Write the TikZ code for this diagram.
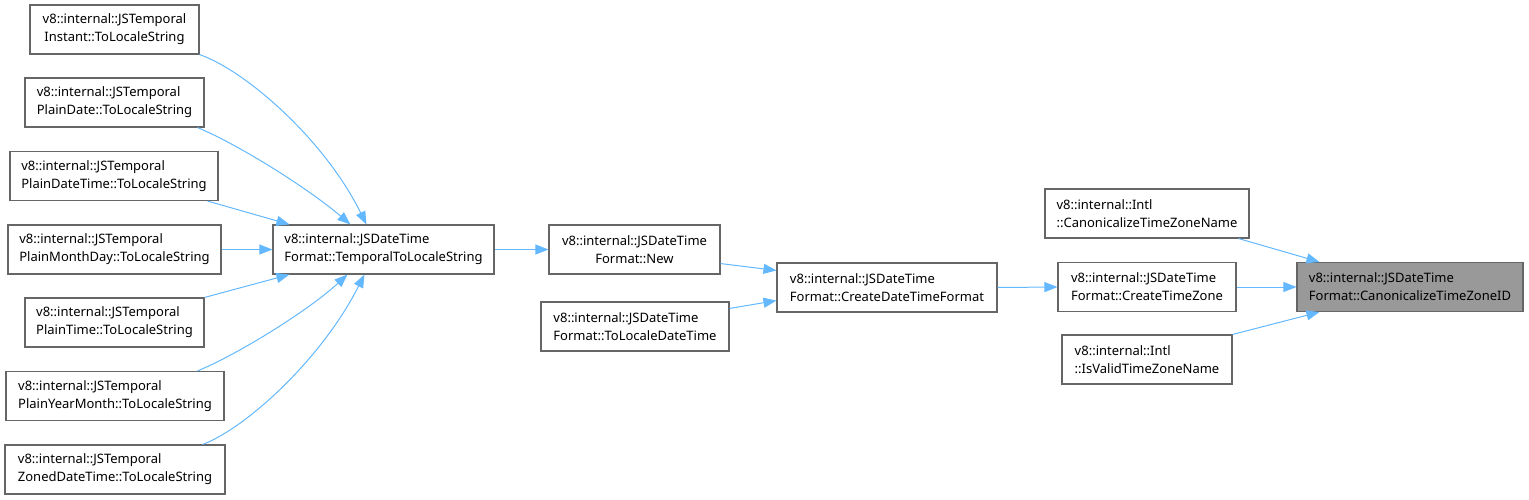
\documentclass[tikz,border=0pt]{standalone}
\usepackage{fontspec}
\setmainfont{Noto Sans}
\usetikzlibrary{arrows.meta}

\definecolor{boxline}{HTML}{666666}
\definecolor{callline}{HTML}{63B8FF}
\definecolor{thisfill}{HTML}{999999}

\begin{document}
\begin{tikzpicture}[x=1pt, y=-1pt,
  every node/.style={draw=boxline, line width=1.1pt, fill=white, rectangle, inner sep=0pt,
    minimum height=49pt, align=left, font=\fontsize{13}{18}\selectfont},
  call/.style={draw=callline, line width=1pt, -{Triangle[length=13pt, width=10pt]}}]

\useasboundingbox (0,0) rectangle (1529,499);

% Nodes

\node[minimum width=169pt, align=center] (instant) at (114.5,29.5) {v8::internal::JSTemporal\\Instant::ToLocaleString};
\node[minimum width=179pt] (pdate) at (114.5,102.5) {v8::internal::JSTemporal\\PlainDate::ToLocaleString};
\node[minimum width=208pt] (pdatetime) at (114,176) {v8::internal::JSTemporal\\PlainDateTime::ToLocaleString};
\node[minimum width=213pt] (pmonthday) at (114.5,249.5) {v8::internal::JSTemporal\\PlainMonthDay::ToLocaleString};
\node[minimum width=179pt] (ptime) at (114.5,322.5) {v8::internal::JSTemporal\\PlainTime::ToLocaleString};
\node[minimum width=218pt] (pyearmonth) at (115,396) {v8::internal::JSTemporal\\PlainYearMonth::ToLocaleString};
\node[minimum width=220pt] (zoned) at (115,469.5) {v8::internal::JSTemporal\\ZonedDateTime::ToLocaleString};

\node[minimum width=221pt] (temporal) at (383.5,249.5) {v8::internal::JSDateTime\\Format::TemporalToLocaleString};
\node[minimum width=171pt, align=center] (new) at (634.5,249.5) {v8::internal::JSDateTime\\Format::New};
\node[minimum width=188pt] (todatetime) at (635,326.5) {v8::internal::JSDateTime\\Format::ToLocaleDateTime};
\node[minimum width=220pt] (createdtf) at (887,287.5) {v8::internal::JSDateTime\\Format::CreateDateTimeFormat};

\node[minimum width=204pt] (canonname) at (1147,213.5) {v8::internal::Intl\\::CanonicalizeTimeZoneName};
\node[minimum width=178pt] (createtz) at (1147,287) {v8::internal::JSDateTime\\Format::CreateTimeZone};
\node[minimum width=170pt] (isvalid) at (1147,359.5) {v8::internal::Intl\\::IsValidTimeZoneName};
\node[minimum width=226pt, fill=thisfill] (canonid) at (1410,287) {v8::internal::JSDateTime\\Format::CanonicalizeTimeZoneID};

% Edges
\draw[call] (instant.south east) .. controls +(46,16) and +(-42,-85) .. ([xshift=94pt]temporal.north west);
\draw[call] ([xshift=-7pt]pdate.south east) .. controls +(43,18) and +(-41,-35) .. ([xshift=78pt]temporal.north west);
\draw[call] ([xshift=-11pt]pdatetime.south east) -- ([xshift=17pt]temporal.north west);
\draw[call] (pmonthday.east) -- (temporal.west);
\draw[call] (ptime.north east) -- ([xshift=17pt]temporal.south west);
\draw[call] ([xshift=-27pt]pyearmonth.north east) .. controls +(43,-18) and +(-38,35) .. ([xshift=75pt]temporal.south west);
\draw[call] ([xshift=-23pt]zoned.north east) .. controls +(43,-16) and +(-43,85) .. ([xshift=92pt]temporal.south west);

\draw[call] (temporal.east) -- (new.west);
\draw[call] ([yshift=11pt]new.south east) -- ([yshift=-8pt]createdtf.north west);
\draw[call] ([yshift=-7pt]todatetime.north east) -- ([yshift=12pt]createdtf.south west);
\draw[call] (createdtf.east) -- (createtz.west);

\draw[call] ([xshift=-11pt]canonname.south east) -- ([xshift=23pt]canonid.north west);
\draw[call] (createtz.east) -- (canonid.west);
\draw[call] (isvalid.north east) -- ([xshift=23pt]canonid.south west);

\end{tikzpicture}
\end{document}
